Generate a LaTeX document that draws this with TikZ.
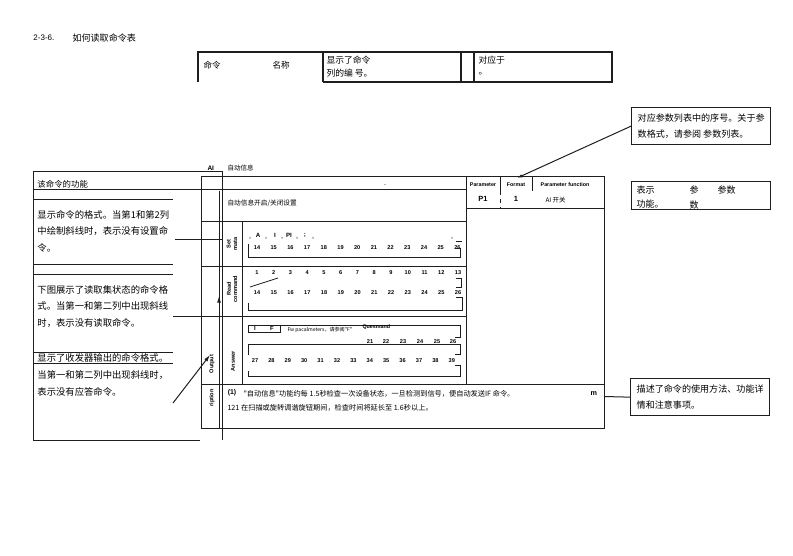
\documentclass[tikz,border=0pt]{standalone}
\usepackage{fontspec}
\setmainfont{Liberation Sans}
\newfontfamily\cjk{Noto Sans CJK SC}
\usetikzlibrary{arrows.meta}
\definecolor{lnblk}{HTML}{1E1E1E}

\begin{document}
\begin{tikzpicture}[x=0.75pt, y=-0.75pt, line width=0.75pt,
    zh/.style={anchor=west, inner sep=0pt, font=\cjk\fontsize{7}{8}\selectfont},
    zhs/.style={anchor=west, inner sep=0pt, font=\cjk\fontsize{5.4}{6}\selectfont},
    num/.style={inner sep=0pt, font=\bfseries\fontsize{4.2}{4.5}\selectfont},
    rot/.style={rotate=90, inner sep=0pt, align=center, font=\bfseries\fontsize{4.2}{4.8}\selectfont},
    hdr/.style={inner sep=0pt, font=\bfseries\fontsize{4}{5}\selectfont},
    note/.style={draw=lnblk, line width=1pt, anchor=north west, minimum width=104.25pt,
      align=left, inner sep=3pt, font=\cjk\fontsize{6.8}{12.5}\selectfont},
    brk/.style={line width=0.6pt}]
    \useasboundingbox (0,0) rectangle (793,556);
    % 标题
    \node[zh, font=\fontsize{6}{7}\selectfont] (secno) at (33,38) {2-3-6.};
    \node[zh, font=\cjk\fontsize{6.8}{8}\selectfont] (title) at (72,38) {如何读取命令表};
    % 顶部说明框
    \draw[lnblk, line width=0.9pt] (198,82) -- (198,52) -- (612,52) -- (612,82) -- (323,82);
    \draw[lnblk, line width=0.9pt] (323,52) -- (323,82);
    \draw[lnblk, line width=0.9pt] (461,52) -- (461,82);
    \draw[lnblk, line width=0.9pt] (474,52) -- (474,82);
    \node[zh, font=\cjk\fontsize{6.4}{7}\selectfont] (tcmd) at (203,65) {命令};
    \node[zh, font=\cjk\fontsize{6.4}{7}\selectfont] (tname) at (272,65) {名称};
    \node[zh, font=\cjk\fontsize{6.6}{7}\selectfont] (tno1) at (326,60) {显示了命令};
    \node[zh, font=\cjk\fontsize{6.6}{7}\selectfont] (tno2) at (326,73) {列的编 号。};
    \node[zh, font=\cjk\fontsize{6.6}{7}\selectfont] (tcor1) at (478,60) {对应于};
    \node[zh, font=\cjk\fontsize{6.6}{7}\selectfont] (tcor2) at (478,74) {。};
    % 左侧说明框
    \draw[lnblk] (223,172) -- (33,172) -- (33,440) -- (200,440);
    \draw[lnblk] (33,190) -- (466,190);
    \draw[lnblk] (33,200) -- (173,200);
    \draw[lnblk] (33,265) -- (173,265);
    \draw[lnblk] (33,275) -- (173,275);
    \draw[lnblk] (33,352) -- (173,352);
    \draw[lnblk] (33,363) -- (173,363);
    \node[zh, font=\cjk\fontsize{6.3}{7}\selectfont] (lfun) at (37,184) {该命令的功能};
    \node[zh] (lset1) at (37,215) {显示命令的格式。当第1和第2列};
    \node[zh] (lset2) at (37,231) {中绘制斜线时，表示没有设置命};
    \node[zh] (lset3) at (37,248) {令。};
    \node[zh] (lrd1) at (37,290) {下图展示了读取集状态的命令格};
    \node[zh] (lrd2) at (37,306) {式。当第一和第二列中出现斜线};
    \node[zh] (lrd3) at (37,323) {时，表示没有读取命令。};
    \node[zh] (lout1) at (37,358) {显示了收发器输出的命令格式。};
    \node[zh] (lout2) at (37,375) {当第一和第二列中出现斜线时，};
    \node[zh] (lout3) at (37,392) {表示没有应答命令。};
    \coordinate (setA) at (175,240);
    \coordinate (setB) at (222,240);
    \draw[lnblk] (setA) -- (setB);
    \coordinate (outA) at (173,403);
    \coordinate (outB) at (210,355);
    \draw[lnblk, -{Latex[length=5pt, width=3pt]}] (outA) -- (outB);
    % 命令表
    \draw[lnblk] (201,177) rectangle (604,428);
    \draw[lnblk] (466,177) -- (466,384);
    \draw[lnblk] (201,222) -- (466,222);
    \draw[lnblk] (201,267) -- (466,267);
    \draw[lnblk] (173,316) -- (466,316);
    \draw[lnblk] (201,384) -- (604,384);
    \draw[lnblk] (242,222) -- (242,384);
    \draw[lnblk] (222,172) -- (222,440);
    \draw[lnblk] (219,191) -- (219,428);
    \draw[lnblk, -{Latex[length=5pt, width=3pt]}] (219,312) -- (219,296);
    \node[zh, font=\bfseries\fontsize{4.9}{5}\selectfont] (ai) at (207,168) {AI};
    \node[zh, font=\cjk\fontsize{4.9}{5}\selectfont] (ainame) at (227,168) {自动信息};
    \node[hdr] (dot) at (385,185) {.};
    \node[zh, font=\cjk\fontsize{5}{6}\selectfont] (fundesc) at (227,203) {自动信息开启/关闭设置};
    % 参数栏
    \draw[lnblk] (500,177) -- (500,191);
    \draw[lnblk, dashed, line width=0.5pt] (500,191) -- (500,209);
    \draw[lnblk] (532,177) -- (532,191);
    \draw[lnblk] (466,209) -- (604,209);
    \node[hdr] (hpar) at (483,185) {Parameter};
    \node[hdr] (hfmt) at (516,185) {Format};
    \node[hdr] (hfun) at (565,185) {Parameter function};
    \node[hdr, font=\bfseries\fontsize{5.6}{6}\selectfont] (p1) at (483,199) {P1};
    \node[hdr, font=\bfseries\fontsize{5.6}{6}\selectfont] (f1) at (516,199) {1};
    \node[zh, font=\cjk\fontsize{4.8}{5}\selectfont] (aisw) at (545,200) {AI 开关};
    % 设置行
    \node[rot] (lblset) at (232,244) {Set\\mata};
    \node[hdr, font=\bfseries\fontsize{4.6}{5}\selectfont] (cA) at (258,235) {A};
    \node[hdr, font=\bfseries\fontsize{4.6}{5}\selectfont] (cI) at (275,235) {I};
    \node[hdr, font=\bfseries\fontsize{4.6}{5}\selectfont] (cPI) at (289,235) {PI};
    \node[hdr, font=\bfseries\fontsize{4.6}{5}\selectfont] (cSc) at (305,235) {;};
    \foreach \xx [count=\k] in {250,266,282,297,313,452}
      \node[hdr] (cm\k) at (\xx,239) {,};
    \draw[lnblk, brk] (456,241) -- (462,241);
    \foreach \n [count=\k from 0] in {14,...,26}
      \node[num] (sa\n) at ({257+16.7*\k},248) {\n};
    \draw[lnblk, brk] (248,244) -- (248,257) -- (460,257) -- (460,248) -- (455,248);
    % 读取行
    \node[rot] (lblrd) at (232,289) {Read\\command};
    \foreach \n [count=\k from 0] in {1,...,13}
      \node[num] (ra\n) at ({257+16.75*\k},273) {\n};
    \foreach \n [count=\k from 0] in {14,...,26}
      \node[num] (rb\n) at ({257+16.75*\k},293) {\n};
    \draw[lnblk, brk] (250,287) -- (278,278);
    \draw[lnblk, brk] (456,278) -- (461,278) -- (461,287) -- (456,287);
    \draw[lnblk, brk] (248,303) -- (248,310) -- (462,310) -- (462,297) -- (456,297);
    % 应答行
    \node[rot] (lblout) at (212,364) {Output};
    \node[rot] (lblans) at (233,361) {Answer};
    \draw[lnblk, brk] (248,325) -- (460,325) -- (460,337) -- (455,337);
    \draw[lnblk, brk] (248,325) -- (248,332) -- (280,332) -- (280,325);
    \node[hdr, font=\bfseries\fontsize{4.4}{5}\selectfont] (bI) at (255,328.5) {I};
    \node[hdr, font=\bfseries\fontsize{4.4}{5}\selectfont] (bF) at (272,328.5) {F};
    \node[zh, font=\cjk\fontsize{3.8}{4}\selectfont] (fwp) at (287,330) {Fw pacalmeters，请参阅"F"};
    \node[zh, font=\bfseries\fontsize{4}{5}\selectfont] (qmd) at (362,327) {Quesmand};
    \foreach \n/\xx in {21/370,22/386,23/403,24/420,25/437,26/453}
      \node[num] (aa\n) at (\xx,342) {\n};
    \draw[lnblk, brk] (248,355) -- (248,344) -- (460,344) -- (460,354) -- (455,354);
    \foreach \n [count=\k from 0] in {27,...,39}
      \node[num] (ab\n) at ({255+16.4*\k},361) {\n};
    \draw[lnblk, brk] (248,371) -- (248,376) -- (460,376) -- (460,365) -- (455,365);
    % 说明行
    \node[rot] (lbldesc) at (212,398) {ription};
    \node[hdr, font=\bfseries\fontsize{5.2}{6}\selectfont] (d1) at (232,393) {(1)};
    \node[zhs] (desc1) at (243,394) {"自动信息"功能约每 1.5秒检查一次设备状态，一旦检测到信号，便自动发送IF 命令。};
    \node[zh, font=\bfseries\fontsize{5.4}{6}\selectfont] (dm) at (590,394) {m};
    \node[zhs] (desc2) at (227,408) {121 在扫描或旋转调谐旋钮期间，检查时间将延长至 1.6秒以上。};
    % 右侧说明框
    \node[note, minimum height=27.75pt] (rbA) at (631,107) {对应参数列表中的序号。关于参\\数格式，请参阅 参数列表。};
    \coordinate (fmtPt) at (517,178);
    \draw[lnblk, -{Latex[length=4pt, width=2.5pt]}] (rbA.west) -- (fmtPt);
    \node[note, minimum height=21pt] (rbB) at (631,181) {};
    \node[zh, font=\cjk\fontsize{6.8}{7}\selectfont] (bb1) at (636,190) {表示};
    \node[zh, font=\cjk\fontsize{6.8}{7}\selectfont] (bb2) at (689,190) {参};
    \node[zh, font=\cjk\fontsize{6.8}{7}\selectfont] (bb3) at (717,190) {参数};
    \node[zh, font=\cjk\fontsize{6.8}{7}\selectfont] (bb4) at (636,204) {功能。};
    \node[zh, font=\cjk\fontsize{6.8}{7}\selectfont] (bb5) at (689,205) {数};
    \node[note, minimum height=27.75pt] (rbC) at (630,378) {描述了命令的使用方法、功能详\\情和注意事项。};
    \coordinate (tblR) at (604,396.5);
    \draw[lnblk] (rbC.west) -- (tblR);
\end{tikzpicture}
\end{document}
